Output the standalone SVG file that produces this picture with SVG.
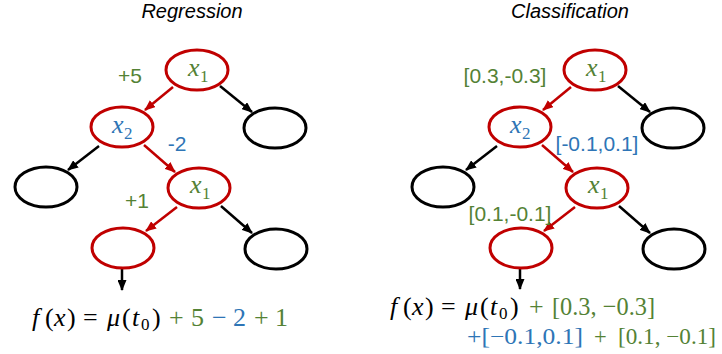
<svg xmlns="http://www.w3.org/2000/svg" width="722" height="354" viewBox="0 0 722 354">
<style>
.nr{fill:#fff;stroke:#C00000;stroke-width:3}
.nb{fill:#fff;stroke:#000;stroke-width:3}
.er{stroke:#C00000;stroke-width:2.5;fill:none}
.eb{stroke:#000;stroke-width:2.5;fill:none}
.ttl{font-family:"Liberation Sans",Arial,sans-serif;font-style:italic;font-size:20px;fill:#000;text-anchor:middle}
.lbl{font-family:"Liberation Sans",Arial,sans-serif;font-size:21px;text-anchor:middle}
.g{fill:#548235}
.b{fill:#2E75B6}
.m{font-family:"Liberation Serif","Times New Roman",serif;font-size:26px}
.mi{font-style:italic}
.sub{font-size:17px}
.f{font-family:"Liberation Serif","Times New Roman",serif;font-size:26px;fill:#000}
.it{font-style:italic}
.s0{font-size:17px}
.l2{font-size:22.5px}
</style>
<defs>
<marker id="ar" markerUnits="userSpaceOnUse" markerWidth="11" markerHeight="9" refX="10" refY="4.5" orient="auto"><path d="M0,0 L11,4.5 L0,9 z" fill="#C00000"/></marker>
<marker id="ab" markerUnits="userSpaceOnUse" markerWidth="11" markerHeight="9" refX="10" refY="4.5" orient="auto"><path d="M0,0 L11,4.5 L0,9 z" fill="#000"/></marker>
</defs>
<text class="ttl" x="192" y="18">Regression</text>
<text class="ttl" x="570" y="18">Classification</text>
<g id="connectors">
<line class="er" x1="173" y1="87" x2="145" y2="110" marker-end="url(#ar)"/>
<line class="eb" x1="220" y1="86" x2="252" y2="112" marker-end="url(#ab)"/>
<line class="eb" x1="99" y1="146" x2="68" y2="170" marker-end="url(#ab)"/>
<line class="er" x1="144" y1="145" x2="175" y2="172" marker-end="url(#ar)"/>
<line class="er" x1="177" y1="207" x2="146" y2="231" marker-end="url(#ar)"/>
<line class="eb" x1="221" y1="206" x2="252" y2="233" marker-end="url(#ab)"/>
<line class="eb" x1="122" y1="251" x2="122" y2="290" marker-end="url(#ab)"/>
<line class="er" x1="571" y1="87" x2="543" y2="110" marker-end="url(#ar)"/>
<line class="eb" x1="618" y1="86" x2="650" y2="112" marker-end="url(#ab)"/>
<line class="eb" x1="497" y1="146" x2="466" y2="170" marker-end="url(#ab)"/>
<line class="er" x1="542" y1="145" x2="573" y2="172" marker-end="url(#ar)"/>
<line class="er" x1="575" y1="207" x2="544" y2="231" marker-end="url(#ar)"/>
<line class="eb" x1="619" y1="206" x2="650" y2="233" marker-end="url(#ab)"/>
<line class="eb" x1="520" y1="251" x2="520" y2="289" marker-end="url(#ab)"/>
</g>
<g id="L_root"><ellipse class="nr" cx="197" cy="70" rx="31" ry="20"/><text class="m g"><tspan class="mi" x="188" y="76">x</tspan><tspan class="sub" x="200" y="82">1</tspan></text></g>
<g id="L_x2"><ellipse class="nr" cx="122" cy="127" rx="31" ry="20"/><text class="m b"><tspan class="mi" x="112" y="133">x</tspan><tspan class="sub" x="124" y="139">2</tspan></text></g>
<g id="L_r1"><ellipse class="nb" cx="275" cy="128" rx="31" ry="20"/></g>
<g id="L_l2"><ellipse class="nb" cx="46" cy="187" rx="31" ry="20"/></g>
<g id="L_x1b"><ellipse class="nr" cx="199" cy="188" rx="31" ry="20"/><text class="m g"><tspan class="mi" x="190" y="193">x</tspan><tspan class="sub" x="202" y="199">1</tspan></text></g>
<g id="L_leaf"><ellipse class="nr" cx="123" cy="248" rx="31" ry="20"/></g>
<g id="L_r3"><ellipse class="nb" cx="276" cy="249" rx="31" ry="20"/></g>
<g id="R_root"><ellipse class="nr" cx="595" cy="70" rx="31" ry="20"/><text class="m g"><tspan class="mi" x="586" y="76">x</tspan><tspan class="sub" x="598" y="82">1</tspan></text></g>
<g id="R_x2"><ellipse class="nr" cx="520" cy="127" rx="31" ry="20"/><text class="m b"><tspan class="mi" x="510" y="133">x</tspan><tspan class="sub" x="522" y="139">2</tspan></text></g>
<g id="R_r1"><ellipse class="nb" cx="673" cy="128" rx="31" ry="20"/></g>
<g id="R_l2"><ellipse class="nb" cx="443" cy="187" rx="31" ry="20"/></g>
<g id="R_x1b"><ellipse class="nr" cx="597" cy="188" rx="31" ry="20"/><text class="m g"><tspan class="mi" x="588" y="193">x</tspan><tspan class="sub" x="600" y="199">1</tspan></text></g>
<g id="R_leaf"><ellipse class="nr" cx="521" cy="248" rx="31" ry="20"/></g>
<g id="R_r3"><ellipse class="nb" cx="674" cy="249" rx="31" ry="20"/></g>
<text class="lbl g" x="130" y="83">+5</text>
<text class="lbl b" x="177" y="151">-2</text>
<text class="lbl g" x="137" y="208">+1</text>
<text class="lbl g" x="505" y="83">[0.3,-0.3]</text>
<text class="lbl b" x="597" y="151">[-0.1,0.1]</text>
<text class="lbl g" x="510" y="221">[0.1,-0.1]</text>
<g id="formula_left" class="f">
<text y="326"><tspan class="it" x="32">f</tspan><tspan x="45">(</tspan><tspan class="it" x="54">x</tspan><tspan x="67">)</tspan><tspan x="83">=</tspan><tspan class="it" x="107">μ</tspan><tspan x="122">(</tspan><tspan class="it" x="132">t</tspan><tspan class="s0" x="141" y="330">0</tspan><tspan x="152" y="326">)</tspan></text>
<text y="326" class="g"><tspan x="169">+</tspan><tspan x="191">5</tspan><tspan class="b" x="212">−</tspan><tspan class="b" x="233">2</tspan><tspan x="254">+</tspan><tspan x="275">1</tspan></text>
</g>
<g id="formula_right" class="f">
<text y="315"><tspan class="it" x="390">f</tspan><tspan x="403">(</tspan><tspan class="it" x="412">x</tspan><tspan x="425">)</tspan><tspan x="441">=</tspan><tspan class="it" x="465">μ</tspan><tspan x="480">(</tspan><tspan class="it" x="490">t</tspan><tspan class="s0" x="499" y="319">0</tspan><tspan x="510" y="315">)</tspan></text>
<text y="315" x="529" class="g">+</text>
<text x="552" y="315" class="g" textLength="103" lengthAdjust="spacingAndGlyphs">[0.3, −0.3]</text>
<text x="467" y="344" class="b l2" textLength="116" lengthAdjust="spacingAndGlyphs">+[−0.1,0.1]</text>
<text x="594" y="344" class="g l2">+</text>
<text x="618" y="344" class="g l2" textLength="98" lengthAdjust="spacingAndGlyphs">[0.1, −0.1]</text>
</g>
</svg>
